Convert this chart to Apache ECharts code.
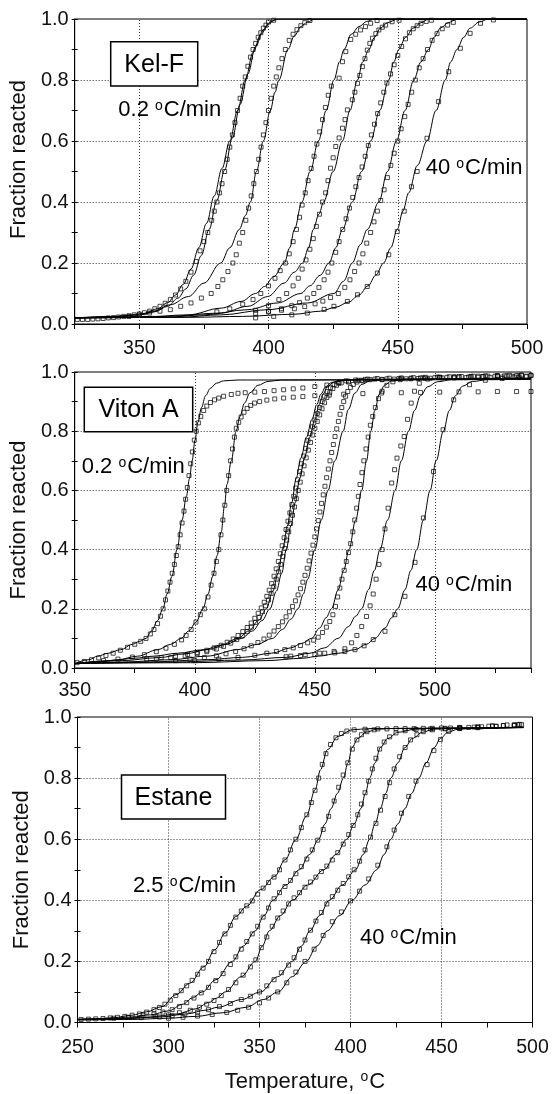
<!DOCTYPE html>
<html><head><meta charset="utf-8">
<script src="https://cdn.jsdelivr.net/npm/echarts@6/dist/echarts.min.js"></script>
<style>html,body{margin:0;padding:0;background:#fff}#c{width:552px;height:1094px}</style>
</head><body><div id="c"></div><script>
// ---------- tick labels / grid values ----------
const kelF_xLabels = [350, 400, 450, 500];
const kelF_xGrid = [350, 400, 450];
const viton_xLabels = [350, 400, 450, 500];
const viton_xGrid = [400, 450, 500];
const estane_xLabels = [250, 300, 350, 400, 450, 500];
const estane_xGrid = [300, 350, 400, 450];
const yLabels = [0.0, 0.2, 0.4, 0.6, 0.8, 1.0];
const yGrid = [0.2, 0.4, 0.6, 0.8];

// ---------- Kel-F : model curves ----------
const kf_fit_a1 = [[325,0.02],[335,0.022],[345,0.027],[352,0.035],[357,0.05],[361,0.07],[364,0.095],[367,0.13],[370,0.18],[373,0.25],[376,0.33],[379,0.42],[382,0.51],[385,0.6],[388,0.7],[391,0.8],[394,0.89],[397,0.95],[400,0.985],[403,1.0],[500,1.0]];
const kf_fit_a2 = [[325,0.02],[340,0.024],[350,0.03],[356,0.04],[361,0.058],[365,0.085],[368,0.115],[371,0.16],[374,0.225],[377,0.31],[380,0.405],[383,0.505],[386,0.61],[389,0.72],[392,0.82],[395,0.91],[398,0.965],[401,0.993],[404,1.0],[500,1.0]];
const kf_fit_b = [[325,0.02],[340,0.024],[350,0.03],[355,0.04],[362,0.063],[369,0.09],[375,0.134],[381.5,0.2],[385,0.25],[388.7,0.31],[391,0.355],[393,0.4],[395.3,0.5],[398,0.6],[400.7,0.7],[402.5,0.76],[404,0.8],[407.5,0.9],[410,0.945],[412.5,0.975],[415,0.99],[418,1.0],[500,1.0]];
const kf_fit_c = [[325,0.02],[350,0.022],[369,0.03],[381.7,0.052],[389.4,0.074],[395,0.1],[398.4,0.123],[402,0.155],[406.1,0.2],[408.2,0.25],[410,0.31],[412.9,0.4],[416.1,0.5],[419.3,0.6],[422.3,0.7],[425.3,0.8],[427.5,0.86],[429.2,0.9],[432,0.95],[435,0.975],[438,0.992],[441,1.0],[500,1.0]];
const kf_fit_d = [[325,0.02],[360,0.025],[381.7,0.036],[392,0.058],[399.7,0.09],[406,0.134],[410,0.17],[413.2,0.2],[415.5,0.25],[417.3,0.31],[419.5,0.36],[421.3,0.4],[425,0.5],[428.6,0.6],[431.5,0.7],[434.4,0.8],[436.5,0.86],[438.8,0.9],[441,0.94],[443.3,0.97],[446,0.988],[450,1.0],[500,1.0]];
const kf_fit_e = [[325,0.02],[360,0.022],[375,0.03],[392,0.047],[403.5,0.069],[412.5,0.1],[416,0.125],[420,0.16],[423.4,0.2],[426,0.25],[428.6,0.31],[432.4,0.4],[436,0.5],[439.5,0.6],[443,0.7],[446.5,0.8],[448.5,0.86],[450.4,0.9],[453,0.94],[456,0.97],[459,0.988],[462,1.0],[500,1.0]];
const kf_fit_f = [[325,0.02],[365,0.022],[381.7,0.03],[399.7,0.047],[415.1,0.069],[425.3,0.1],[429,0.14],[432.4,0.2],[435.5,0.26],[438.2,0.31],[442.7,0.4],[446,0.5],[449.5,0.6],[452.8,0.7],[456.2,0.8],[459,0.86],[461.9,0.9],[464,0.94],[466.5,0.97],[469.5,0.988],[473,1.0],[500,1.0]];
const kf_fit_g = [[325,0.02],[370,0.022],[390,0.025],[410,0.032],[420,0.042],[426,0.055],[431,0.072],[435,0.095],[438.5,0.125],[441.5,0.16],[444.5,0.2],[447.3,0.25],[449.8,0.31],[452,0.37],[454.2,0.43],[457.6,0.52],[461.3,0.6],[464.8,0.7],[468.4,0.8],[470.5,0.86],[472.9,0.9],[475.5,0.94],[478,0.97],[481.5,0.99],[485,1.0],[500,1.0]];

// ---------- Kel-F : measured points ----------
const kf_data_a = [[326,0.015],[328,0.015],[330,0.015],[332,0.016],[334,0.017],[336,0.018],[338,0.02],[340,0.021],[342,0.023],[344,0.025],[346,0.027],[348,0.03],[350,0.033],[352,0.037],[354,0.042],[356,0.05],[358,0.058],[360,0.068],[362,0.08],[364,0.095],[366,0.115],[368,0.14],[370,0.17],[372,0.205],[373.5,0.24],[375,0.27],[376.5,0.3],[378,0.34],[379,0.37],[380,0.4],[381,0.43],[382,0.46],[383,0.5],[384,0.54],[385,0.58],[386,0.62],[387,0.66],[388,0.7],[389,0.74],[390,0.78],[391,0.81],[392,0.845],[393,0.875],[394,0.9],[395,0.92],[396,0.94],[397,0.955],[398,0.97],[399,0.98],[400,0.99],[402,0.996]];
const kf_data_b = [[346,0.025],[350,0.03],[354,0.036],[358,0.042],[362,0.047],[366,0.058],[370,0.069],[374,0.085],[377.8,0.1],[380.4,0.123],[382.3,0.145],[384.3,0.172],[386.2,0.2],[387.5,0.227],[388.7,0.265],[390,0.3],[391.2,0.34],[392.3,0.38],[393.3,0.42],[394.3,0.46],[395.3,0.5],[396.2,0.54],[397.1,0.58],[398,0.62],[399,0.66],[400,0.7],[401,0.74],[402,0.78],[403,0.81],[404,0.84],[405.2,0.87],[406.5,0.9],[408,0.93],[409.5,0.95],[411,0.965],[412.5,0.978],[414,0.988],[416,0.995]];
const kf_data_c = [[380,0.04],[385,0.05],[390,0.065],[394,0.08],[397,0.1],[400,0.125],[402.5,0.15],[404.5,0.175],[406.5,0.2],[408,0.23],[409.5,0.27],[410.8,0.31],[412,0.35],[413,0.39],[414.2,0.43],[415.3,0.47],[416.5,0.51],[417.6,0.55],[418.7,0.59],[419.8,0.63],[420.9,0.67],[422,0.71],[423.1,0.75],[424.3,0.78],[427.3,0.806],[428.6,0.86],[429.9,0.893],[431.8,0.933],[433.7,0.95],[435.6,0.964],[437.5,0.975],[439.5,0.986],[442,0.995]];
const kf_data_d = [[395,0.045],[400,0.06],[404,0.08],[407,0.1],[409.5,0.125],[411.5,0.15],[413,0.18],[414.5,0.21],[416,0.245],[417.3,0.28],[418.5,0.32],[419.7,0.36],[420.9,0.4],[422.1,0.43],[423,0.47],[424,0.511],[425,0.545],[426,0.582],[427.3,0.61],[428.6,0.642],[429.6,0.67],[430.5,0.702],[432.4,0.735],[433.4,0.76],[434.4,0.789],[435.3,0.815],[436.3,0.844],[437.3,0.87],[438.2,0.898],[439.2,0.92],[440.2,0.937],[441.5,0.952],[442.7,0.964],[444,0.973],[445.3,0.98],[447.8,0.991],[450.5,0.996]];
const kf_data_e = [[395,0.035],[400,0.042],[405,0.05],[409,0.06],[412,0.07],[415,0.085],[417.5,0.1],[419.5,0.12],[421.5,0.145],[423,0.17],[424.5,0.2],[426,0.235],[427.3,0.27],[428.7,0.31],[430,0.345],[431.3,0.38],[432.6,0.415],[433.8,0.45],[435,0.48],[436.2,0.515],[437.4,0.55],[438.6,0.585],[439.8,0.62],[441,0.655],[442.2,0.69],[443.4,0.725],[444.6,0.76],[445.8,0.79],[447.2,0.82],[448.6,0.85],[450,0.88],[451.5,0.91],[453,0.935],[454.5,0.955],[456,0.968],[457.5,0.978],[459,0.986],[461,0.992],[463,0.996]];
const kf_data_f = [[400,0.04],[405,0.045],[410,0.05],[414,0.057],[418,0.066],[421,0.075],[424,0.087],[427,0.1],[429.5,0.12],[431.5,0.145],[433.3,0.172],[435,0.2],[436.5,0.23],[438,0.265],[439.5,0.3],[440.8,0.335],[442.1,0.37],[443.4,0.405],[444.7,0.44],[446,0.48],[447.3,0.52],[448.6,0.56],[450,0.6],[451.3,0.64],[452.7,0.68],[454,0.72],[455.4,0.76],[456.8,0.8],[458.3,0.84],[459.8,0.87],[461.5,0.9],[463.3,0.93],[465.2,0.952],[467.2,0.968],[469.3,0.98],[471.5,0.989]];
const kf_data_g = [[395,0.02],[402,0.025],[409,0.03],[415,0.036],[421.5,0.048],[425.3,0.058],[430.5,0.074],[434.4,0.096],[438.2,0.123],[442.1,0.167],[446.5,0.227],[449.8,0.303],[452.5,0.37],[455.3,0.45],[457.5,0.5],[461.3,0.609],[465.8,0.729],[469.7,0.827],[474.2,0.904],[478,0.953],[482,0.986],[487,0.997]];

// ---------- Viton A : model curves ----------
const vt_fit_1 = [[350,0.015],[356,0.028],[359.5,0.04],[364,0.05],[369.2,0.062],[374,0.08],[377,0.09],[379.7,0.1],[382,0.125],[384.5,0.16],[386.7,0.2],[388.5,0.25],[390.5,0.31],[392.6,0.4],[394.7,0.5],[396.5,0.58],[397.8,0.64],[398.9,0.7],[400.1,0.77],[401.3,0.83],[402.8,0.88],[404.5,0.92],[406.5,0.945],[409,0.962],[412,0.97],[418,0.973],[540,0.975]];
const vt_fit_2 = [[350,0.015],[360,0.02],[368,0.028],[376.2,0.04],[384.6,0.062],[390,0.08],[394.3,0.1],[397.5,0.125],[400.5,0.155],[403.4,0.2],[405.5,0.25],[407.5,0.31],[409.3,0.38],[411,0.46],[412.4,0.55],[413.4,0.62],[415.2,0.7],[417.2,0.8],[418.8,0.85],[420.7,0.895],[423,0.93],[426.3,0.955],[430.5,0.968],[436,0.973],[540,0.976]];
const vt_fit_3 = [[350,0.015],[365,0.025],[375,0.033],[383,0.04],[393,0.05],[404,0.062],[411,0.078],[418,0.1],[422.5,0.125],[426.5,0.16],[429.8,0.2],[432.5,0.26],[434.7,0.32],[436.6,0.4],[438.5,0.48],[440.4,0.56],[442.2,0.64],[444.2,0.71],[446.5,0.78],[448.8,0.84],[450.8,0.89],[452.5,0.925],[454.5,0.95],[457,0.965],[461,0.972],[470,0.975],[540,0.978]];
const vt_fit_4 = [[350,0.015],[370,0.025],[385,0.035],[396,0.048],[406,0.063],[413,0.08],[419.5,0.1],[424,0.125],[428,0.16],[431.3,0.2],[434,0.26],[436.2,0.32],[438.1,0.4],[440,0.48],[441.9,0.56],[443.7,0.64],[445.7,0.71],[447.8,0.78],[450,0.84],[451.8,0.89],[453.4,0.925],[455.2,0.95],[457.8,0.965],[462,0.972],[470,0.975],[540,0.978]];
const vt_fit_5 = [[350,0.015],[370,0.02],[390,0.028],[405,0.04],[418,0.062],[426,0.08],[432.3,0.1],[436.5,0.13],[440,0.165],[443,0.2],[445.2,0.25],[447,0.3],[450,0.4],[452.7,0.5],[455.5,0.6],[458.3,0.7],[461.8,0.8],[463.9,0.873],[466.7,0.929],[469.5,0.958],[473,0.97],[480,0.975],[540,0.978]];
const vt_fit_6 = [[350,0.015],[380,0.02],[405,0.028],[420,0.036],[432,0.05],[440,0.068],[444.5,0.083],[448.6,0.1],[452,0.135],[454.7,0.17],[456.9,0.2],[459.7,0.264],[462,0.33],[464.2,0.4],[467,0.5],[469.5,0.6],[471.5,0.7],[473.3,0.8],[475,0.87],[476.8,0.925],[479,0.955],[482,0.97],[488,0.976],[540,0.979]];
const vt_fit_7 = [[350,0.015],[390,0.02],[420,0.027],[438,0.036],[448,0.05],[454,0.068],[459.7,0.1],[464,0.14],[467,0.175],[469.5,0.2],[472.3,0.264],[474.8,0.33],[477.1,0.4],[480.3,0.5],[483.4,0.6],[486,0.7],[489,0.8],[491.5,0.87],[494,0.92],[497,0.95],[501,0.967],[507,0.974],[540,0.978]];
const vt_fit_8 = [[350,0.015],[400,0.018],[430,0.025],[445,0.033],[451.4,0.04],[460,0.05],[466.7,0.062],[471.5,0.08],[475,0.1],[479.2,0.135],[482,0.17],[484.5,0.2],[487.5,0.264],[490,0.33],[492.4,0.4],[495.2,0.5],[498,0.6],[500.5,0.7],[503.5,0.8],[506,0.87],[508.5,0.92],[511.5,0.952],[515.5,0.968],[522,0.974],[540,0.976]];

// ---------- Viton A : measured points ----------
const vt_data_1 = [[351,0.018],[354,0.022],[357,0.028],[360,0.034],[363,0.042],[366,0.05],[369,0.06],[372,0.07],[375,0.08],[377.5,0.09],[379.7,0.1],[381.5,0.115],[383,0.13],[384.5,0.15],[385.7,0.175],[386.8,0.2],[387.8,0.23],[388.8,0.26],[389.7,0.29],[390.6,0.32],[391.5,0.35],[392.3,0.38],[393.1,0.41],[393.9,0.45],[394.7,0.49],[395.5,0.53],[396.2,0.57],[396.9,0.61],[397.6,0.65],[398.3,0.69],[399,0.73],[399.8,0.77],[400.6,0.8],[401.5,0.828],[402.5,0.85],[403.7,0.87],[405,0.885],[406.5,0.897],[408.2,0.906],[410,0.912],[412,0.918],[415.2,0.924],[418,0.928],[421,0.93],[425,0.932],[429,0.934],[433,0.937],[437,0.94],[441,0.943],[445,0.946],[450,0.951],[455,0.956],[460,0.962],[464,0.966],[470,0.97],[478,0.974],[486,0.977],[494,0.98],[502,0.982],[510,0.984],[518,0.986],[526,0.987],[534,0.988],[540,0.989]];
const vt_data_2 = [[362,0.025],[368,0.03],[374,0.037],[379,0.045],[384,0.055],[388,0.067],[391.5,0.08],[394.5,0.095],[396.4,0.11],[398.5,0.13],[400.5,0.155],[402.3,0.18],[404,0.2],[405.5,0.24],[406.8,0.28],[408,0.32],[409,0.36],[410,0.4],[410.9,0.45],[411.7,0.5],[412.5,0.55],[413.3,0.6],[414.1,0.65],[414.9,0.7],[415.7,0.74],[416.5,0.78],[417.3,0.81],[418.3,0.83],[419.3,0.848],[420.5,0.864],[421.8,0.877],[423.3,0.887],[424.9,0.895],[427,0.9],[430,0.905],[433.3,0.909],[437,0.912],[441,0.915],[445,0.917],[450,0.92],[456,0.922],[462,0.925],[470,0.927],[477.8,0.929],[486,0.93],[494,0.931],[502,0.932],[510,0.933],[518,0.933],[526,0.934],[534,0.934],[540,0.934]];
const vt_data_3 = [[380,0.03],[386,0.035],[392,0.04],[397,0.046],[401,0.052],[405,0.06],[408,0.068],[411,0.077],[413.5,0.087],[416,0.098],[418,0.11],[420,0.123],[421.8,0.137],[423.5,0.152],[425,0.168],[426.4,0.185],[427.7,0.203],[428.9,0.222],[430,0.242],[431,0.263],[432,0.285],[433,0.31],[433.9,0.335],[434.8,0.36],[435.6,0.386],[436.4,0.413],[437.2,0.44],[438,0.468],[438.8,0.496],[439.6,0.524],[440.4,0.552],[441.2,0.58],[442,0.608],[442.8,0.636],[443.6,0.664],[444.4,0.69],[445.3,0.716],[446.2,0.742],[447.1,0.768],[448,0.792],[449,0.815],[450,0.838],[451,0.86],[452,0.88],[453,0.9],[454,0.918],[455.2,0.934],[456.5,0.947],[458,0.957],[460,0.965],[463,0.97],[467,0.973],[471,0.975],[475,0.976],[480,0.977],[485,0.978],[490,0.979],[495,0.98],[500,0.981],[505,0.982],[510,0.983],[515,0.984],[520,0.985],[525,0.986],[530,0.987],[535,0.987],[540,0.988]];
const vt_data_4 = [[384,0.03],[390,0.035],[396,0.041],[401,0.048],[405,0.055],[409,0.064],[412,0.073],[415,0.084],[417.5,0.096],[419.8,0.109],[421.8,0.123],[423.6,0.138],[425.3,0.154],[426.8,0.171],[428.2,0.19],[429.5,0.21],[430.7,0.23],[431.8,0.252],[432.9,0.275],[433.9,0.3],[434.9,0.325],[435.8,0.35],[436.7,0.377],[437.5,0.404],[438.3,0.432],[439.1,0.46],[439.9,0.488],[440.7,0.516],[441.5,0.544],[442.3,0.572],[443.1,0.6],[443.9,0.628],[444.7,0.656],[445.5,0.683],[446.4,0.71],[447.3,0.736],[448.2,0.762],[449.1,0.787],[450,0.81],[451,0.833],[452,0.855],[453,0.876],[454,0.896],[455,0.914],[456.2,0.93],[457.5,0.944],[459,0.955],[461,0.963],[464,0.969],[468,0.972],[473,0.974],[478,0.975],[483,0.976],[488,0.977],[493,0.978],[498,0.979],[503,0.98],[508,0.98],[513,0.981],[518,0.982],[523,0.982],[528,0.983],[533,0.983],[538,0.984]];
const vt_data_5 = [[392,0.025],[398,0.03],[404,0.035],[409,0.041],[413,0.048],[417,0.056],[420.5,0.065],[423.5,0.075],[426.3,0.086],[428.8,0.098],[431,0.111],[433,0.125],[434.8,0.14],[436.5,0.156],[438,0.173],[439.4,0.19],[440.7,0.208],[441.9,0.227],[443,0.247],[444,0.268],[445,0.29],[445.9,0.313],[446.8,0.337],[447.6,0.362],[448.4,0.388],[449.2,0.415],[450,0.443],[450.7,0.47],[451.4,0.498],[452.1,0.527],[452.8,0.556],[453.5,0.585],[454.2,0.614],[454.9,0.643],[455.6,0.672],[456.3,0.7],[457,0.728],[457.7,0.755],[458.4,0.782],[459.1,0.808],[459.8,0.833],[460.5,0.857],[461.2,0.88],[462,0.9],[462.8,0.918],[463.7,0.934],[464.8,0.948],[466,0.958],[467.5,0.966],[469.5,0.972],[472,0.976],[476,0.978],[481,0.979],[486,0.98],[491,0.981],[496,0.982],[501,0.983],[506,0.984],[511,0.985],[516,0.986],[521,0.987],[526,0.988],[531,0.989],[536,0.99]];
const vt_data_6 = [[400,0.025],[410,0.03],[418,0.036],[425,0.043],[430,0.05],[434,0.056],[437.5,0.062],[441,0.068],[444,0.076],[447,0.085],[449.5,0.094],[451.4,0.104],[453.2,0.12],[454.8,0.138],[456.2,0.157],[457.5,0.18],[458.6,0.208],[459.5,0.24],[460.4,0.27],[461.3,0.3],[462.2,0.33],[463.1,0.36],[464,0.39],[464.9,0.42],[465.8,0.46],[466.6,0.5],[467.4,0.54],[468.1,0.58],[468.8,0.62],[469.6,0.66],[470.4,0.7],[471.3,0.74],[472.2,0.78],[473.1,0.82],[474.1,0.85],[475.2,0.88],[476.5,0.91],[478,0.935],[480,0.955],[482.5,0.967],[485.5,0.974],[490,0.977],[496,0.979],[502,0.981],[508,0.982],[514,0.983],[520,0.984],[526,0.985],[532,0.986],[538,0.986]];
const vt_data_7 = [[440,0.04],[446,0.045],[452,0.05],[458,0.056],[462.5,0.065],[465.3,0.085],[467.5,0.11],[469.5,0.14],[471.5,0.174],[473,0.21],[474.3,0.25],[475.5,0.3],[476.7,0.35],[478,0.4],[479.2,0.47],[480.5,0.54],[482,0.625],[483.2,0.67],[484.2,0.709],[485.8,0.75],[487.2,0.782],[488.6,0.84],[490.1,0.895],[491.5,0.935],[493.5,0.962],[497,0.976],[502,0.982],[508,0.984],[515,0.985],[522,0.986],[529,0.987],[536,0.988]];
const vt_data_8 = [[438,0.038],[444,0.042],[450,0.045],[454.1,0.05],[458.3,0.051],[462.5,0.056],[466.7,0.062],[470.5,0.075],[474.3,0.096],[479.2,0.124],[483.3,0.18],[487.5,0.242],[491.7,0.357],[495.2,0.507],[499.4,0.664],[503.4,0.805],[507.8,0.906],[514.4,0.957],[521,0.972],[528,0.978],[535,0.981]];

// ---------- Estane : model curves ----------
const es_fit_1 = [[250,0.01],[260,0.012],[270,0.016],[280,0.024],[288,0.035],[296.4,0.052],[304.1,0.091],[311.8,0.129],[319.6,0.183],[325.4,0.238],[331.2,0.293],[337,0.347],[342.8,0.38],[350.6,0.435],[358.3,0.478],[364.1,0.533],[369.9,0.598],[375.7,0.675],[380.6,0.762],[383.5,0.827],[387.3,0.893],[393.2,0.937],[400.9,0.958],[410,0.962],[495,0.965]];
const es_fit_2 = [[250,0.01],[265,0.012],[280,0.018],[290,0.025],[300,0.038],[308,0.06],[313,0.08],[318.6,0.1],[326,0.14],[335.1,0.2],[341,0.25],[347.7,0.3],[352.5,0.35],[357.3,0.4],[364.5,0.45],[371.9,0.5],[377.5,0.55],[382.5,0.6],[386,0.65],[389.3,0.7],[392.8,0.75],[396.1,0.8],[398.6,0.85],[400.9,0.9],[404,0.93],[408.6,0.95],[414.4,0.96],[425,0.963],[495,0.966]];
const es_fit_3 = [[250,0.01],[270,0.012],[290,0.018],[305,0.028],[315,0.045],[322,0.065],[326.5,0.08],[331.2,0.1],[340,0.15],[347.7,0.2],[351.5,0.25],[355.4,0.3],[361.5,0.35],[368,0.4],[376.5,0.45],[385.4,0.5],[392,0.55],[398,0.6],[402,0.65],[405.7,0.7],[408.2,0.75],[410.5,0.8],[413.5,0.85],[416.4,0.9],[420.5,0.93],[426.1,0.95],[435.7,0.96],[445,0.963],[495,0.966]];
const es_fit_4 = [[250,0.01],[275,0.012],[295,0.018],[310,0.028],[320,0.04],[327.3,0.05],[340,0.075],[350.6,0.1],[360,0.15],[368,0.2],[373,0.25],[377.7,0.3],[383,0.35],[388.3,0.4],[395.5,0.45],[402.8,0.5],[407,0.55],[410.5,0.6],[413.5,0.65],[416.4,0.7],[419.3,0.75],[422.2,0.8],[426,0.85],[429.9,0.9],[434,0.93],[439.6,0.95],[445.4,0.96],[455,0.963],[495,0.966]];
const es_fit_5 = [[250,0.008],[280,0.01],[300,0.014],[315,0.02],[330,0.032],[342.8,0.05],[352,0.075],[360.3,0.1],[368,0.15],[375.7,0.2],[381.5,0.25],[387.3,0.3],[394,0.35],[400.9,0.4],[408,0.45],[414.4,0.5],[418.5,0.55],[422.2,0.6],[426,0.65],[429.9,0.7],[433.6,0.75],[437.5,0.8],[441.5,0.85],[446,0.9],[449.5,0.93],[453.5,0.95],[459,0.96],[470,0.963],[495,0.966]];

// ---------- Estane : measured points ----------
const es_data_1 = [[252,0.01],[256,0.011],[260,0.012],[264,0.013],[268,0.015],[272,0.017],[276,0.02],[280,0.024],[284,0.028],[288,0.034],[292,0.042],[295,0.049],[298,0.06],[301,0.073],[304,0.088],[307,0.104],[310,0.12],[313,0.138],[316,0.158],[319,0.178],[322,0.2],[325,0.232],[328,0.262],[331,0.29],[334,0.318],[337,0.345],[340,0.365],[343,0.382],[346,0.398],[349,0.42],[352,0.44],[355,0.458],[358,0.476],[361,0.5],[364,0.532],[367,0.565],[370,0.6],[373,0.638],[376,0.68],[378.5,0.72],[380.5,0.76],[382.5,0.8],[384.5,0.845],[386.5,0.88],[389,0.91],[392,0.932],[395,0.946],[398,0.954],[402,0.958],[408,0.96],[415,0.961],[425,0.962],[435,0.962],[445,0.963],[455,0.964],[465,0.966],[472,0.968],[478,0.97],[484,0.972],[490,0.974],[494,0.975]];
const es_data_2 = [[270,0.014],[278,0.017],[286,0.022],[292,0.028],[297,0.034],[302,0.042],[306,0.052],[310,0.065],[314,0.08],[318,0.097],[322,0.115],[326,0.137],[330,0.16],[334,0.19],[337,0.215],[340,0.24],[343,0.265],[346,0.29],[349,0.315],[352,0.345],[355,0.375],[358,0.405],[361,0.425],[364,0.445],[367,0.465],[370,0.487],[373,0.51],[376,0.535],[379,0.565],[382,0.597],[385,0.632],[388,0.675],[391,0.725],[393.5,0.77],[396,0.81],[398.5,0.85],[401,0.895],[403.5,0.925],[406,0.942],[409,0.952],[413,0.958],[420,0.961],[430,0.962],[440,0.963],[450,0.964],[460,0.966],[470,0.968],[478,0.971],[486,0.974],[493,0.976]];
const es_data_3 = [[285,0.016],[293,0.02],[300,0.025],[306,0.032],[312,0.04],[317,0.05],[321,0.06],[325,0.072],[329,0.088],[333,0.108],[337,0.13],[341,0.155],[345,0.182],[348,0.205],[351,0.245],[354,0.28],[357,0.315],[360,0.342],[363,0.365],[366,0.388],[369,0.408],[372,0.425],[375,0.443],[378,0.46],[381,0.476],[384,0.494],[387,0.512],[390,0.532],[393,0.556],[396,0.584],[399,0.615],[401.5,0.645],[404,0.68],[406,0.715],[408,0.752],[410,0.79],[412,0.83],[414,0.865],[416,0.895],[418.5,0.918],[421.5,0.935],[425,0.948],[430,0.955],[436,0.959],[444,0.961],[452,0.963],[460,0.965],[468,0.967],[476,0.97],[484,0.972],[492,0.975]];
const es_data_4 = [[295,0.018],[302,0.022],[309,0.027],[316,0.034],[322,0.042],[328,0.052],[334,0.062],[340,0.075],[345,0.086],[350,0.1],[354,0.12],[358,0.14],[362,0.163],[366,0.188],[369,0.212],[372,0.24],[375,0.27],[378,0.302],[381,0.332],[384,0.36],[387,0.388],[390,0.412],[393,0.433],[396,0.455],[399,0.477],[402,0.5],[405,0.528],[408,0.565],[411,0.607],[414,0.652],[416.5,0.695],[419,0.74],[421.5,0.785],[424,0.83],[427,0.87],[430,0.9],[433,0.925],[436.5,0.942],[440,0.952],[445,0.958],[452,0.961],[460,0.963],[470,0.966],[480,0.97],[490,0.973]];
const es_data_5 = [[300,0.014],[308,0.017],[316,0.021],[324,0.026],[332,0.033],[338,0.04],[344,0.05],[350,0.064],[355,0.08],[360,0.1],[365,0.13],[370,0.165],[375,0.2],[380,0.24],[385,0.285],[390,0.33],[395,0.362],[400,0.398],[405,0.43],[410,0.47],[415,0.515],[420,0.575],[424,0.63],[428,0.685],[432,0.74],[436,0.79],[442.1,0.844],[445.8,0.89],[449.4,0.926],[454,0.953],[460,0.962],[470,0.965],[480,0.969],[490,0.973]];

// ---------- build ----------
const FONT = 'Liberation Sans';
const kelF_fits = [kf_fit_a1, kf_fit_a2, kf_fit_b, kf_fit_c, kf_fit_d, kf_fit_e, kf_fit_f, kf_fit_g];
const kelF_data = [kf_data_a, kf_data_b, kf_data_c, kf_data_d, kf_data_e, kf_data_f, kf_data_g];
const viton_fits = [vt_fit_1, vt_fit_2, vt_fit_3, vt_fit_4, vt_fit_5, vt_fit_6, vt_fit_7, vt_fit_8];
const viton_data = [vt_data_1, vt_data_2, vt_data_3, vt_data_4, vt_data_5, vt_data_6, vt_data_7, vt_data_8];
const estane_fits = [es_fit_1, es_fit_2, es_fit_3, es_fit_4, es_fit_5];
const estane_data = [es_data_1, es_data_2, es_data_3, es_data_4, es_data_5];

const grids = [
  {left: 73, top: 19, width: 454, height: 305},
  {left: 74, top: 372, width: 457, height: 296},
  {left: 77.5, top: 717, width: 455, height: 305.5}
].map(g => Object.assign({show: true, borderColor: '#000', borderWidth: 1, backgroundColor: 'transparent'}, g));

function xAxisFor(gi, min, max, labels, labelMargin, extra) {
  return Object.assign({
    type: 'value', gridIndex: gi, min: min, max: max, interval: 25,
    axisLine: {show: true, onZero: false, lineStyle: {color: '#000', width: 1}},
    axisTick: {show: true, length: 5, lineStyle: {color: '#000'}},
    splitLine: {show: false},
    axisLabel: {show: true, margin: labelMargin, color: '#111', fontFamily: FONT, fontSize: 19.5,
      formatter: v => labels.indexOf(v) >= 0 ? String(v) : ''}
  }, extra || {});
}
function yAxisFor(gi, nameGap, namePad) {
  return {
    type: 'value', gridIndex: gi, min: 0, max: 1, interval: 0.1, position: 'left',
    name: 'Fraction reacted', nameLocation: 'middle', nameGap: nameGap,
    nameTextStyle: {fontFamily: FONT, fontSize: 22, color: '#111', padding: namePad},
    axisLine: {show: true, onZero: false, lineStyle: {color: '#000', width: 1}},
    axisTick: {show: true, length: 3, lineStyle: {color: '#000'}},
    splitLine: {show: false},
    axisLabel: {show: true, margin: 6, color: '#111', fontFamily: FONT, fontSize: 20,
      formatter: v => yLabels.some(t => Math.abs(t - v) < 1e-6) ? v.toFixed(1) : ''}
  };
}
function yInnerTicks(gi) {
  return {type: 'value', gridIndex: gi, min: 0, max: 1, interval: 0.1, position: 'left',
    axisLine: {show: false}, axisLabel: {show: false}, splitLine: {show: false},
    axisTick: {show: true, inside: true, length: 3, lineStyle: {color: '#000'}}};
}

const xAxes = [
  xAxisFor(0, 325, 500, kelF_xLabels, 15),
  xAxisFor(1, 350, 540, viton_xLabels, 13),
  xAxisFor(2, 250, 500, estane_xLabels, 15, {
    name: 'Temperature, {s|o}C', nameLocation: 'middle', nameGap: 48,
    nameTextStyle: {fontFamily: FONT, fontSize: 22, color: '#111',
      rich: {s: {fontFamily: FONT, fontSize: 14, color: '#111', verticalAlign: 'top', padding: [0, 1, 0, 0]}}}
  })
];
const yAxes = [yAxisFor(0, 37, [0, 0, 0, 24]), yAxisFor(1, 38, [0, 0, 0, 0]), yAxisFor(2, 41, [0, 0, 0, 0]),
  yInnerTicks(0), yInnerTicks(1), yInnerTicks(2)];

function gridLines(xs) {
  return {silent: true, symbol: 'none', animation: false, label: {show: false},
    lineStyle: {color: '#333', width: 1, type: [1, 2]},
    emphasis: {disabled: true},
    data: xs.map(v => ({xAxis: v})).concat(yGrid.map(v => ({yAxis: v})))};
}
function fitSeries(d, gi, i, xs) {
  const s = {type: 'line', xAxisIndex: gi, yAxisIndex: gi, data: d, showSymbol: false, symbol: 'none',
    smooth: 0.35, smoothMonotone: 'x', lineStyle: {color: '#000', width: 1}, silent: true, z: 3,
    animation: false};
  if (i === 0) s.markLine = gridLines(xs);
  return s;
}
function dataSeries(d, gi) {
  return {type: 'scatter', xAxisIndex: gi, yAxisIndex: gi, data: d, symbol: 'rect', symbolSize: 4,
    itemStyle: {color: 'rgba(255,255,255,0)', borderColor: '#000', borderWidth: 0.9},
    silent: true, z: 4, animation: false};
}
const series = [];
kelF_fits.forEach((d, i) => series.push(fitSeries(d, 0, i, kelF_xGrid)));
kelF_data.forEach(d => series.push(dataSeries(d, 0)));
viton_fits.forEach((d, i) => series.push(fitSeries(d, 1, i, viton_xGrid)));
viton_data.forEach(d => series.push(dataSeries(d, 1)));
estane_fits.forEach((d, i) => series.push(fitSeries(d, 2, i, estane_xGrid)));
estane_data.forEach(d => series.push(dataSeries(d, 2)));

function box(x, y, w, h, label) {
  return {type: 'group', children: [
    {type: 'rect', shape: {x: x, y: y, width: w, height: h},
      style: {fill: '#fff', stroke: '#000', lineWidth: 1.5}, z: 10},
    {type: 'text', x: x + w / 2, y: y + h / 2 + 1, z: 11,
      style: {text: label, fill: '#000', font: '25px "' + FONT + '"', textAlign: 'center', textVerticalAlign: 'middle'}}
  ]};
}
const richSup = {s: {fontFamily: FONT, fontSize: 14, fill: '#000', verticalAlign: 'top', padding: [0, 1, 0, 0]}};
function rate(x, y, txt) {
  return {type: 'text', x: x, y: y, z: 11,
    style: {text: txt, fill: '#000', fontFamily: FONT, fontSize: 22, textAlign: 'left', textVerticalAlign: 'middle', rich: richSup}};
}

const chart = echarts.init(document.getElementById('c'), null, {renderer: 'canvas'});
chart.setOption({
  animation: false,
  backgroundColor: '#fff',
  grid: grids,
  xAxis: xAxes,
  yAxis: yAxes,
  series: series,
  graphic: [
    box(110.7, 41.7, 87, 44.3, 'Kel-F'),
    box(84.3, 387.3, 108.4, 44.4, 'Viton A'),
    box(121.5, 775, 104, 44, 'Estane'),
    rate(118.3, 110, '0.2 {s|o}C/min'),
    rate(425.7, 168, '40 {s|o}C/min'),
    rate(81.7, 466.7, '0.2 {s|o}C/min'),
    rate(415.5, 585, '40 {s|o}C/min'),
    rate(133, 886, '2.5 {s|o}C/min'),
    rate(360, 938, '40 {s|o}C/min')
  ]
});
</script></body></html>
